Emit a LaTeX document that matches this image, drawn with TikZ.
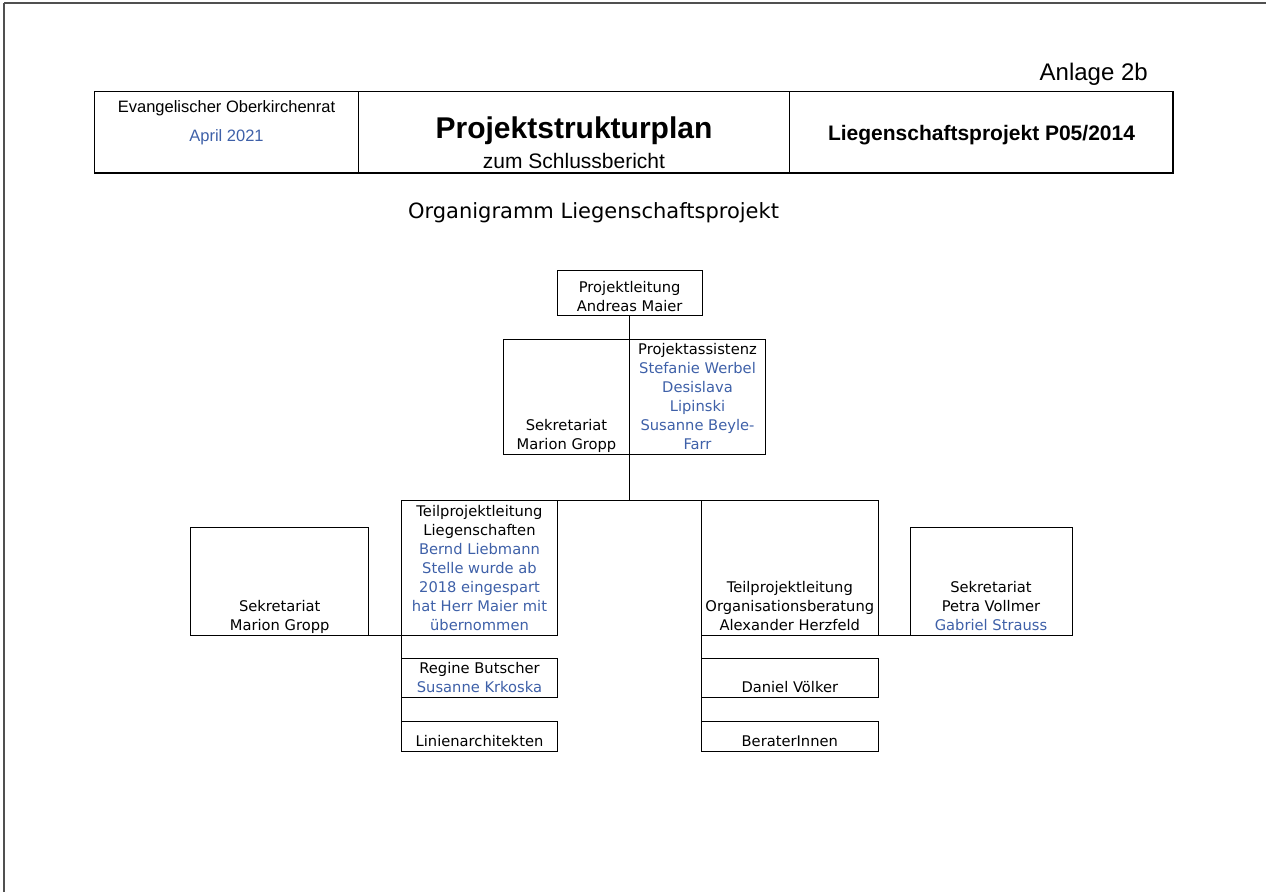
\documentclass[tikz,border=0pt]{standalone}
\usepackage{fontspec}
\setmainfont{Liberation Sans}
\newfontfamily\boxfont{DejaVu Sans}
\definecolor{nameblue}{RGB}{62,96,168}
\definecolor{pageline}{RGB}{80,80,80}
\newcommand{\bl}[1]{\textcolor{nameblue}{#1}}
\newcommand{\lines}[1]{\begin{tabular}[b]{@{}c@{}}#1\end{tabular}}
\tikzset{
  orgbox/.style={draw, line width=1pt, inner sep=0pt, outer sep=0pt, anchor=north west},
  headcell/.style={draw, line width=1.2pt, inner sep=0pt, outer sep=0pt, anchor=north west},
  boxtxt/.style={inner sep=0pt, anchor=base, font=\boxfont\fontsize{14.7}{19}\selectfont},
  link/.style={line width=1pt},
}
\begin{document}
\begin{tikzpicture}[x=1pt,y=-1pt]
\useasboundingbox (0,0) rectangle (1266,892);
\draw[pageline, line width=1.8pt] (4,3) -- (1266,3);
\draw[pageline, line width=1.8pt] (4,3) -- (4,892);

% header
\node[font=\fontsize{24}{28}\selectfont, inner sep=0pt, anchor=base east] (anl) at (1148,80.8) {Anlage 2b};
\node[headcell, minimum width=264, minimum height=81.4] (h1) at (94.5,91.6) {};
\node[headcell, minimum width=431.1, minimum height=81.4] (h2) at (358.5,91.6) {};
\node[headcell, minimum width=383.4, minimum height=81.4] (h3) at (789.6,91.6) {};
\node[font=\fontsize{16.5}{20}\selectfont, inner sep=0pt, anchor=base] (eok) at (226.5,112.3) {Evangelischer Oberkirchenrat};
\node[font=\fontsize{16.5}{20}\selectfont, inner sep=0pt, anchor=base, text=nameblue] (date) at (226.5,141.3) {April 2021};
\node[font=\bfseries\fontsize{30}{34}\selectfont, inner sep=0pt, anchor=base] (psp) at (574,138.7) {Projektstrukturplan};
\node[font=\fontsize{21}{25}\selectfont, inner sep=0pt, anchor=base] (zsb) at (574,168.5) {zum Schlussbericht};
\node[font=\bfseries\fontsize{21}{25}\selectfont, inner sep=0pt, anchor=base] (lp) at (981.5,140) {Liegenschaftsprojekt P05/2014};

\node[font=\boxfont\fontsize{21}{25}\selectfont, inner sep=0pt, anchor=base] (org) at (593.5,218.7) {Organigramm Liegenschaftsprojekt};

% boxes
\node[orgbox, minimum width=144.8, minimum height=44.3] (pl) at (557.3,270.7) {};
\node[orgbox, minimum width=126.4, minimum height=114.7] (sek1) at (503.3,339.3) {};
\node[orgbox, minimum width=135.6, minimum height=114.7] (ass) at (629.7,339.3) {};
\node[orgbox, minimum width=155.6, minimum height=134.3] (tl1) at (401.7,500.7) {};
\node[orgbox, minimum width=178, minimum height=107.7] (sekL) at (190.7,527.3) {};
\node[orgbox, minimum width=176.3, minimum height=134.3] (tl2) at (701.7,500.7) {};
\node[orgbox, minimum width=162, minimum height=107.7] (sekR) at (910,527.3) {};
\node[orgbox, minimum width=155.6, minimum height=39] (reg) at (401.7,658) {};
\node[orgbox, minimum width=155.6, minimum height=30] (lin) at (401.7,721) {};
\node[orgbox, minimum width=176.3, minimum height=39] (dan) at (701.7,658) {};
\node[orgbox, minimum width=176.3, minimum height=30] (ber) at (701.7,721) {};

% texts
\node[boxtxt] (tpl) at (629.7,311.3) {\lines{Projektleitung\\Andreas Maier}};
\node[boxtxt] (tsek1) at (566.5,449.5) {\lines{Sekretariat\\Marion Gropp}};
\node[boxtxt] (tass) at (697.5,449.5) {\lines{Projektassistenz\\\bl{Stefanie Werbel}\\\bl{Desislava}\\\bl{Lipinski}\\\bl{Susanne Beyle-}\\\bl{Farr}}};
\node[boxtxt] (ttl1) at (479.5,630.3) {\lines{Teilprojektleitung\\Liegenschaften\\\bl{Bernd Liebmann}\\\bl{Stelle wurde ab}\\\bl{2018 eingespart}\\\bl{hat Herr Maier mit}\\\bl{übernommen}}};
\node[boxtxt] (tsekL) at (279.7,630.3) {\lines{Sekretariat\\Marion Gropp}};
\node[boxtxt] (ttl2) at (789.8,630.3) {\lines{Teilprojektleitung\\Organisationsberatung\\Alexander Herzfeld}};
\node[boxtxt] (tsekR) at (991,630.3) {\lines{Sekretariat\\Petra Vollmer\\\bl{Gabriel Strauss}}};
\node[boxtxt] (treg) at (479.5,692.5) {\lines{Regine Butscher\\\bl{Susanne Krkoska}}};
\node[boxtxt] (tlin) at (479.5,746.5) {Linienarchitekten};
\node[boxtxt] (tdan) at (789.8,692.5) {Daniel Völker};
\node[boxtxt] (tber) at (789.8,746.5) {BeraterInnen};

% connectors
\draw[link] (pl.south) -- (pl.south |- tl1.north);
\draw[link] (tl1.north east) -- (tl2.north west);
\draw[link] (sekL.south east) -- (tl1.south west);
\draw[link] (tl2.south east) -- (sekR.south west);
\draw[link] (tl1.south west) -- (reg.north west);
\draw[link] (reg.south west) -- (lin.north west);
\draw[link] (tl2.south west) -- (dan.north west);
\draw[link] (dan.south west) -- (ber.north west);
\end{tikzpicture}
\end{document}
